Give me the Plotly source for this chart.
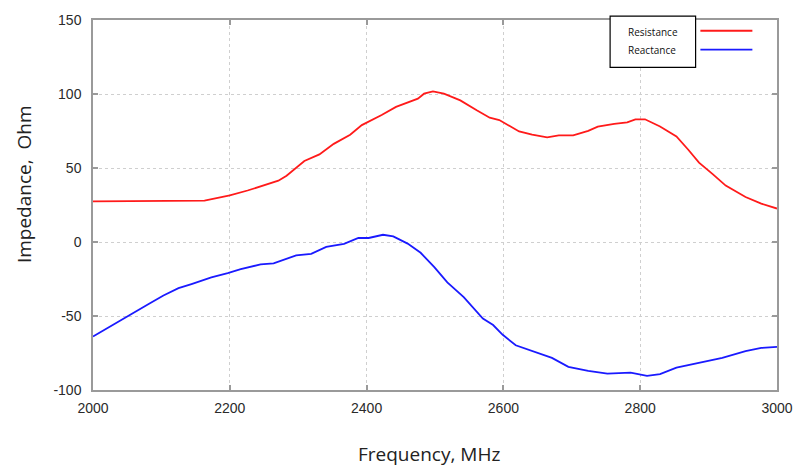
import plotly.graph_objects as go

# ---- data ----
freq_res = [2000, 2050, 2100, 2130, 2163, 2200, 2226, 2271, 2283, 2309, 2331, 2352, 2376, 2393,
            2422, 2443, 2475, 2484, 2497, 2513, 2537, 2561, 2580, 2594, 2623, 2642, 2664, 2681,
            2702, 2724, 2738, 2762, 2781, 2793, 2807, 2829, 2853, 2870, 2886, 2906, 2925, 2954,
            2977, 3000]
resistance = [27.5, 27.5, 27.8, 27.5, 28, 31.5, 34.8, 41.4, 44.8, 54.7, 59.2, 66.3, 72.5, 79,
              85.8, 91.3, 96.9, 100.2, 101.7, 100.2, 95.7, 89, 84, 82.4, 74.7, 72.5, 70.7, 72,
              72, 75.1, 78, 79.8, 80.9, 82.9, 82.9, 78, 71.3, 62.5, 53.6, 45.9, 38.1, 30.4,
              25.9, 22.6]

freq_reac = [2000, 2024, 2053, 2082, 2103, 2125, 2144, 2173, 2197, 2216, 2245, 2264, 2297, 2319,
             2341, 2367, 2388, 2403, 2424, 2439, 2460, 2479, 2499, 2518, 2542, 2570, 2585, 2599,
             2618, 2642, 2671, 2695, 2724, 2752, 2786, 2810, 2829, 2853, 2896, 2920, 2954, 2977,
             3000]
reactance = [-63.8, -57.2, -49.4, -41.7, -36.1, -31.2, -28.4, -23.9, -21, -18.4, -15.1, -14.4,
             -9.1, -8, -3.3, -1.3, 2.7, 2.7, 4.9, 3.8, -1.1, -7.3, -17, -27.3, -37.2, -51.7,
             -56.1, -62.7, -69.8, -73.8, -78.3, -84.4, -87.1, -88.9, -88.2, -90.4, -89.3, -84.9,
             -80.5, -78.3, -73.8, -71.6, -70.9]

x_ticks = [2000, 2200, 2400, 2600, 2800, 3000]
y_ticks = [-100, -50, 0, 50, 100, 150]
series_names = ["Resistance", "Reactance"]
series_colors = ["#ff1a1a", "#1a1aff"]

fig = go.Figure()
fig.add_trace(go.Scatter(x=freq_res, y=resistance, mode="lines", name=series_names[0],
                         line=dict(color=series_colors[0], width=1.8), showlegend=False))
fig.add_trace(go.Scatter(x=freq_reac, y=reactance, mode="lines", name=series_names[1],
                         line=dict(color=series_colors[1], width=1.8), showlegend=False))

axis_common = dict(
    showline=True, linecolor="#9a9a9a", linewidth=1.5, mirror="ticks",
    ticks="inside", ticklen=5, tickcolor="#9a9a9a", tickwidth=1.5,
    showgrid=True, gridcolor="#cfcfcf", griddash="dot", gridwidth=1,
    zeroline=False, ticklabeloverflow="allow",
    tickfont=dict(family="Liberation Sans, Arial", size=14, color="#2a2a2a"),
)

fig.update_xaxes(range=[2000, 3000], tickvals=x_ticks, ticktext=[str(v) for v in x_ticks],
                 ticklabelstandoff=4, **axis_common)
fig.update_yaxes(range=[-100, 150], tickvals=y_ticks, ticktext=[str(v) for v in y_ticks],
                 ticklabelstandoff=7, **axis_common)

title_font = dict(family="Open Sans, Noto Sans", size=19, color="#222222")
legend_font = dict(family="Open Sans, Noto Sans", size=10, color="#111111")

annotations = [
    dict(text="Frequency, MHz", xref="paper", yref="paper", x=0.491, y=-0.173,
         xanchor="center", yanchor="middle", showarrow=False, font=title_font),
    dict(text="Impedance,  Ohm", xref="paper", yref="paper", x=-0.1006, y=0.557,
         xanchor="center", yanchor="middle", showarrow=False, textangle=-90, font=title_font),
    dict(text=series_names[0], xref="paper", yref="paper", x=0.779, y=0.968,
         xanchor="left", yanchor="middle", showarrow=False, font=legend_font),
    dict(text=series_names[1], xref="paper", yref="paper", x=0.779, y=0.920,
         xanchor="left", yanchor="middle", showarrow=False, font=legend_font),
]

shapes = [
    dict(type="rect", xref="paper", yref="paper", x0=0.756, x1=0.881, y0=0.872, y1=1.0106,
         line=dict(color="#000000", width=1.2), fillcolor="white", layer="above"),
    dict(type="line", xref="paper", yref="paper", x0=0.888, x1=0.964, y0=0.971, y1=0.971,
         line=dict(color=series_colors[0], width=1.8)),
    dict(type="line", xref="paper", yref="paper", x0=0.888, x1=0.964, y0=0.920, y1=0.920,
         line=dict(color=series_colors[1], width=1.8)),
]

fig.update_layout(
    width=805, height=468,
    margin=dict(l=93, r=16, t=14, b=78),
    paper_bgcolor="white", plot_bgcolor="white",
    annotations=annotations, shapes=shapes,
)

post = ("document.documentElement.style.overflow='hidden';"
        "document.body.style.margin='0';document.body.style.overflow='hidden';"
        "document.querySelectorAll('svg').forEach(function(s){s.style.overflow='hidden';});")

fig.write_html("out.html", post_script=post)
